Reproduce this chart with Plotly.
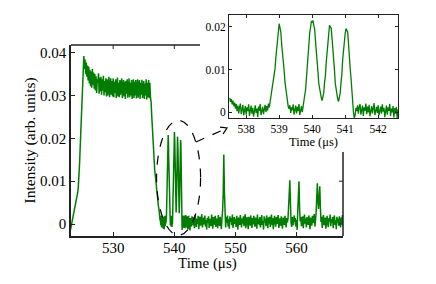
import math
import numpy as np
import plotly.graph_objects as go

# ---------------- data, intensity in units of 1e-4 ----------------
# main trace before the pulse train: from 523.0 us, every 0.1 us (one row = 1 us)
pre_start, pre_step = 523.0, 0.1
pre_intensity_e4 = [
    -15, -6, 2, 9, 15, 22, 30, 37, 44, 50,            # 523
    57, 64, 74, 88, 108, 140, 178, 220, 262, 305,     # 524
    348, 378, 392, 362, 384, 350, 377, 344, 370, 335,  # 525
    368, 328, 360, 322, 356, 318, 362, 325, 354, 316,  # 526
    350, 312, 345, 306, 338, 330, 352, 304, 342, 310,  # 527
    344, 302, 338, 312, 346, 300, 334, 308, 340, 298,  # 528
    338, 300, 330, 344, 296, 326, 340, 302, 334, 298,  # 529
    340, 296, 332, 306, 338, 294, 328, 342, 298, 330,  # 530
    296, 336, 302, 330, 340, 294, 326, 336, 298, 332,  # 531
    292, 334, 304, 338, 295, 328, 340, 296, 330, 300,  # 532
    336, 292, 326, 338, 294, 332, 300, 336, 293, 328,  # 533
    338, 295, 324, 336, 292, 330, 302, 337, 294, 326,  # 534
    334, 292, 328, 300, 338, 291, 330, 296, 336, 294,  # 535
    330, 296, 286, 255, 222, 185, 160, 140, 125, 112,  # 536
    95, 86, 72, 58, 42,                                # 537.0-537.4
]

# pulse train (also the inset): from 537.5 us, every 0.025 us (one row = 0.5 us)
zoom_start, zoom_step = 537.5, 0.025
zoom_intensity_e4 = [
    33, 24, 30, 18, 27, 14, 22, 8, 19, 2, 15, -3, 12, 20, -5, 9, 17, -8, 6, 14,                 # 537.5
    -6, 11, 2, 18, -9, 7, 15, -4, 10, -11, 5, 16, -2, 8, -12, 13, 3, 19, -7, 6,                 # 538.0
    12, -5, 9, 17, 0, 14, 4, 20, 11, 24, 38, 42, 58, 68, 89, 102, 129, 145, 174, 188,           # 538.5
    208, 198, 188, 160, 143, 114, 98, 71, 58, 35, 27, 12, 8, 16, -2, 11, 4, 18, -6, 9,          # 539.0
    15, -3, 12, 2, 19, -7, 8, 14, 0, 17, 24, 40, 52, 81, 102, 136, 155, 185, 198, 213,          # 539.5
    212, 215, 203, 195, 167, 148, 114, 95, 67, 55, 37, 34, 27, 39, 45, 69, 85, 116, 137, 168,   # 540.0
    185, 204, 200, 197, 175, 155, 120, 99, 67, 53, 33, 30, 25, 37, 45, 71, 89, 124, 144, 175,   # 540.5
    185, 196, 192, 188, 161, 141, 104, 81, 44, 25, 0, -14, -8, 10, 2, 16, -4, 12, 19, -6,       # 541.0
    8, 15, -9, 11, 3, 20, -5, 13, -1, 17, -10, 6, 14, -3, 9, 21, -7, 5, 12, -2,                 # 541.5
    16, -8, 7, 13, -4, 18, 1, 10, -12, 6, 15, -6, 11, 3, 19, -9, 8, -1, 14, -13,                # 542.0
    9, -4, 12, -15, 6,                                                                          # 542.5-542.6
]

# main trace after the pulse train: from 542.7 us, every 0.1 us (one row = 1 us)
post_start, post_step = 542.7, 0.1
post_intensity_e4 = [
    14, -6, 18,                                    # 542.7-542.9
    -3, 16, 2, -10, 21, 5, -7, 13, 0, 19,          # 543
    -12, 8, 17, -4, 11, 23, -8, 6, 15, -1,         # 544
    20, -6, 9, -13, 14, 3, 18, -9, 12, 1,          # 545
    -5, 22, 7, -11, 16, -2, 10, 19, -7, 4,         # 546
    13, -10, 21, 2, -4, 17, 8, -12, 15, 30,        # 547
    70, 162, 75, 12, -8, 16, 3, 20, -6, 11,        # 548
    -11, 18, 5, 14, -3, 22, -9, 7, 16, 0,          # 549
    12, -7, 19, 4, -13, 15, 9, -2, 21, 6,          # 550
    -8, 13, 1, 18, -5, 10, 23, -10, 8, 16,         # 551
    2, -12, 17, 6, -4, 20, 11, -9, 14, -1,         # 552
    19, 3, -6, 15, 8, -11, 22, 0, 12, -3,          # 553
    16, -8, 10, 21, -2, 7, -13, 18, 4, 13,         # 554
    -5, 20, 9, -10, 15, 1, 17, -7, 11, 22,         # 555
    -3, 14, -12, 8, 19, 5, -6, 16, 0, 12,          # 556
    21, -9, 6, 13, -4, 18, 2, -11, 15, 7,          # 557
    -2, 19, 10, -8, 14, 4, 12, 30, 70, 102,        # 558
    40, 3, -7, 16, 8, -3, 20, 5, 14, -6,           # 559
    9, -14, 32, 75, 100, 35, 6, 17, -5, 12,        # 560
    18, -10, 7, 22, 1, 13, -8, 16, 4, -2,          # 561
    20, 6, -12, 15, 9, -4, 19, 2, 11, 23,          # 562
    -6, 8, 25, 60, 95, 55, 35, 62, 88, 40,         # 563
    5, 17, -9, 12, 21, -3, 8, 15, -11, 10,         # 564
    19, 0, -7, 14, 6, 22, -5, 11, 3, 16,           # 565
    -10, 13, 20, -2, 9, -12, 17, 4, 12, -4,        # 566
    18, 7, -8, 15, 1, 21, -6, 10, 14, 2,           # 567
]

main_time_ticks = [530, 540, 550, 560]
main_intensity_ticks = [0, 0.01, 0.02, 0.03, 0.04]
main_intensity_labels = ["0", "0.01", "0.02", "0.03", "0.04"]
inset_time_ticks = [538, 539, 540, 541, 542]
inset_intensity_ticks = [0, 0.01, 0.02]
inset_intensity_labels = ["0", "0.01", "0.02"]

# ---------------- build series ----------------
pre_time = pre_start + pre_step * np.arange(len(pre_intensity_e4))
zoom_time = zoom_start + zoom_step * np.arange(len(zoom_intensity_e4))
post_time = post_start + post_step * np.arange(len(post_intensity_e4))
pre_intensity = np.array(pre_intensity_e4) * 1e-4
zoom_intensity = np.array(zoom_intensity_e4) * 1e-4
post_intensity = np.array(post_intensity_e4) * 1e-4

main_time = np.concatenate([pre_time, zoom_time, post_time])
main_intensity = np.concatenate([pre_intensity, zoom_intensity, post_intensity])

W, H = 436, 284
GREEN = "rgb(0,125,0)"
AX = "#222222"
FONT = "Liberation Serif"


def px(x, y):
    return x / W, 1 - y / H


fig = go.Figure()
fig.add_trace(go.Scatter(x=main_time, y=main_intensity, mode="lines",
                         line=dict(color=GREEN, width=1.5), xaxis="x", yaxis="y",
                         showlegend=False, hoverinfo="skip"))
fig.add_trace(go.Scatter(x=zoom_time, y=zoom_intensity, mode="lines",
                         line=dict(color=GREEN, width=1.3), xaxis="x2", yaxis="y2",
                         showlegend=False, hoverinfo="skip"))

main_x0, main_x1 = 71, 343
main_ytop, main_ybot = 45, 236
ins_x0, ins_x1 = 229, 398
ins_ytop, ins_ybot = 15, 118

fig.update_layout(
    width=W, height=H,
    margin=dict(l=0, r=0, t=0, b=0),
    paper_bgcolor="white", plot_bgcolor="white",
    font=dict(family=FONT, color="black"),
    xaxis=dict(domain=[main_x0 / W, main_x1 / W], range=[523.1, 567.6],
               tickvals=main_time_ticks, ticks="inside", ticklen=4, tickwidth=1,
               tickcolor=AX, showline=True, linecolor=AX, linewidth=1.5,
               mirror=False, showgrid=False, zeroline=False, ticklabelstandoff=-3,
               tickfont=dict(size=15, family=FONT), anchor="y"),
    yaxis=dict(domain=[1 - main_ybot / H, 1 - main_ytop / H], range=[-0.0028, 0.0418],
               tickvals=main_intensity_ticks, ticktext=main_intensity_labels,
               ticks="inside", ticklen=4, tickwidth=1, tickcolor=AX,
               showline=True, linecolor=AX, linewidth=1.5, mirror=False,
               showgrid=False, zeroline=False,
               tickfont=dict(size=15, family=FONT), anchor="x"),
    xaxis2=dict(domain=[ins_x0 / W, ins_x1 / W], range=[537.48, 542.6],
                tickvals=inset_time_ticks, ticks="inside", ticklen=3, tickwidth=1,
                tickcolor=AX, showline=True, linecolor=AX, linewidth=1,
                mirror="ticks", showgrid=False, zeroline=False,
                tickfont=dict(size=11.5, family=FONT), anchor="y2"),
    yaxis2=dict(domain=[1 - ins_ybot / H, 1 - ins_ytop / H], range=[-0.0014, 0.0228],
                tickvals=inset_intensity_ticks, ticktext=inset_intensity_labels,
                ticks="inside", ticklen=3, tickwidth=1, tickcolor=AX,
                showline=True, linecolor=AX, linewidth=1, mirror="ticks",
                showgrid=False, zeroline=False,
                tickfont=dict(size=11.5, family=FONT), anchor="x2"),
)

shapes = []
# partial top frame of main axes with its ticks
ax0, ay0 = px(main_x0, main_ytop)
ax1, _ = px(200, main_ytop)
shapes.append(dict(type="line", xref="paper", yref="paper", x0=ax0, x1=ax1, y0=ay0, y1=ay0,
                   line=dict(color=AX, width=1.5)))
for t in [530, 540]:
    shapes.append(dict(type="line", xref="x", yref="paper", x0=t, x1=t,
                       y0=ay0, y1=ay0 - 4 / H, line=dict(color=AX, width=1)))
# partial right frame of main axes with its ticks
rx, ry0 = px(main_x1, 152)
_, ry1 = px(main_x1, main_ybot)
shapes.append(dict(type="line", xref="paper", yref="paper", x0=rx, x1=rx, y0=ry0, y1=ry1,
                   line=dict(color=AX, width=1.5)))
for v in [0, 0.01]:
    shapes.append(dict(type="line", xref="paper", yref="y", x0=rx, x1=rx - 4 / W,
                       y0=v, y1=v, line=dict(color=AX, width=1)))
# dashed ellipse around the pulse train
shapes.append(dict(type="circle", xref="x", yref="y", x0=537.1, x1=544.3,
                   y0=-0.0026, y1=0.0242, line=dict(color="black", width=1.2, dash="dash")))
# dashed arrow to the inset
sx, sy = 196, 142
tx, ty = 227, 128
p0 = px(sx, sy)
p1 = px(tx - 2, ty + 1)
shapes.append(dict(type="line", xref="paper", yref="paper", x0=p0[0], y0=p0[1],
                   x1=p1[0], y1=p1[1], line=dict(color="black", width=1.2, dash="dash")))
dx, dy = tx - sx, ty - sy
L = math.hypot(dx, dy)
ux, uy = dx / L, dy / L
arms = []
for ang in (math.radians(32), -math.radians(32)):
    c, s = math.cos(ang), math.sin(ang)
    bx = -(ux * c - uy * s) * 7
    by = -(ux * s + uy * c) * 7
    arms.append(px(tx + bx, ty + by))
tip = px(tx, ty)
shapes.append(dict(type="path", xref="paper", yref="paper",
                   path=f"M {arms[0][0]},{arms[0][1]} L {tip[0]},{tip[1]} L {arms[1][0]},{arms[1][1]}",
                   line=dict(color="black", width=1.2)))
fig.update_layout(shapes=shapes)

ann = []
x, y = px(29, 140.5)
ann.append(dict(text="Intensity (arb. units)", x=x, y=y, xref="paper", yref="paper",
                textangle=-90, showarrow=False, xanchor="center", yanchor="middle",
                font=dict(size=15.5, family=FONT, color="black")))
x, y = px(207, 263)
ann.append(dict(text="Time (μs)", x=x, y=y, xref="paper", yref="paper", showarrow=False,
                xanchor="center", yanchor="middle", font=dict(size=15, family=FONT, color="black")))
x, y = px(313.5, 142)
ann.append(dict(text="Time (μs)", x=x, y=y, xref="paper", yref="paper", showarrow=False,
                xanchor="center", yanchor="middle", font=dict(size=12.5, family=FONT, color="black")))
fig.update_layout(annotations=ann)

fig.write_html("out.html", config={"displayModeBar": False},
               post_script="document.body.style.margin='0';")
